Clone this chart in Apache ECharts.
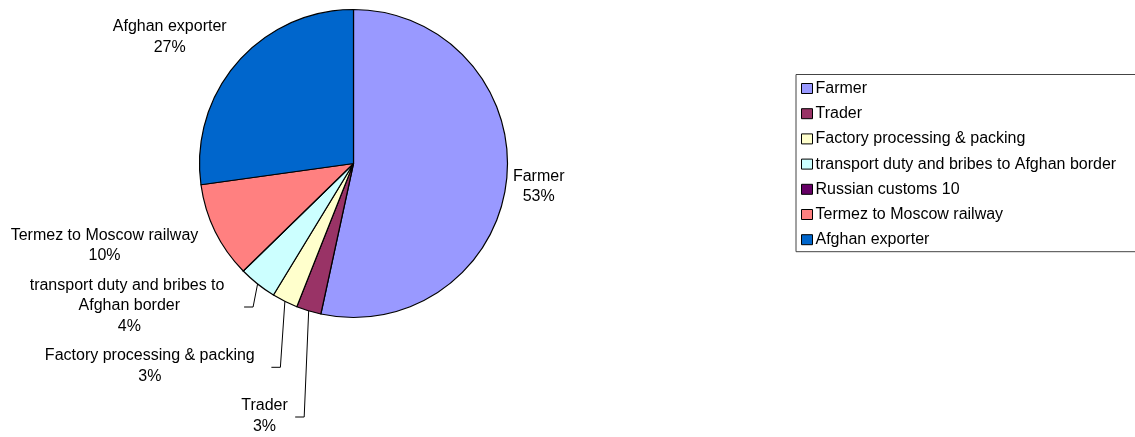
<!DOCTYPE html>
<html>
<head>
<meta charset="utf-8">
<script src="https://cdn.jsdelivr.net/npm/echarts@6/dist/echarts.min.js"></script>
<style>
html,body{margin:0;padding:0;background:#fff;}
#chart{width:1135px;height:437px;}
</style>
</head>
<body>
<div id="chart"></div>
<script>
// ---- data ----
const categories = ['Farmer', 'Trader', 'Factory processing & packing', 'transport duty and bribes to Afghan border', 'Russian customs 10', 'Termez to Moscow railway', 'Afghan exporter'];
const shares = [53.4, 2.6, 2.7, 4.0, 0, 10.1, 27.2];
const colors = ['#9999FF', '#993366', '#FFFFCC', '#CCFFFF', '#660066', '#FF8080', '#0066CC'];

// ---- layout (label placement, not data) ----
const FONT = "'Liberation Sans', Arial, Helvetica, sans-serif";
const FS = 16;
const pieCenter = [353.5, 163.5];
const pieRadius = 154;
const labelCenters = {
  'Farmer': [538.7, 186.7],
  'Afghan exporter': [169.7, 37.2],
  'Termez to Moscow railway': [104.5, 245.5],
  'transport duty and bribes to Afghan border': [129.3, 306],
  'Factory processing & packing': [149.8, 366.3],
  'Trader': [264.5, 416]
};
const leaderNames = ['Trader', 'Factory processing & packing', 'transport duty and bribes to Afghan border'];

const total = shares.reduce((a, b) => a + b, 0);
function edgePoint(i) {
  let cum = 0;
  for (let k = 0; k < i; k++) cum += shares[k];
  const mid = (cum + shares[i] / 2) / total * 2 * Math.PI;
  return [pieCenter[0] + pieRadius * Math.sin(mid), pieCenter[1] - pieRadius * Math.cos(mid)];
}

const data = categories.map((name, i) => {
  const item = { name: name, value: shares[i], itemStyle: { color: colors[i] } };
  if (shares[i] === 0) {
    item.label = { show: false };
    item.labelLine = { show: false };
  } else if (leaderNames.indexOf(name) < 0) {
    item.labelLine = { show: false };
  }
  if (name === 'transport duty and bribes to Afghan border') {
    item.label = { width: 205, overflow: 'break' };
  }
  return item;
});

const chart = echarts.init(document.getElementById('chart'), null, { renderer: 'canvas' });
chart.setOption({
  animation: false,
  backgroundColor: '#ffffff',
  textStyle: { fontFamily: FONT },
  legend: {
    orient: 'vertical',
    left: 796,
    top: 74.5,
    padding: [5, 40, 3, 5],
    borderColor: '#444',
    borderWidth: 1,
    itemWidth: 11,
    itemHeight: 10,
    itemGap: 7.2,
    icon: 'rect',
    itemStyle: { borderColor: '#000', borderWidth: 1 },
    textStyle: { fontFamily: FONT, fontSize: FS, color: '#000', lineHeight: 18, padding: [0, 0, 0, -2] },
    data: categories
  },
  series: [{
    type: 'pie',
    center: pieCenter,
    radius: pieRadius,
    startAngle: 90,
    clockwise: true,
    avoidLabelOverlap: false,
    itemStyle: { borderColor: '#000', borderWidth: 1.2 },
    label: {
      show: true,
      position: 'outside',
      fontFamily: FONT,
      fontSize: FS,
      color: '#000',
      lineHeight: 20.5,
      align: 'center',
      formatter: p => p.name + '\n' + Math.round(p.percent) + '%'
    },
    labelLine: { show: true, smooth: false, lineStyle: { color: '#000', width: 1 } },
    labelLayout: function (p) {
      const name = categories[p.dataIndex];
      const c = labelCenters[name];
      if (!c) return {};
      const res = { x: c[0], y: c[1], align: 'center', verticalAlign: 'middle' };
      if (leaderNames.indexOf(name) >= 0) {
        const s = edgePoint(p.dataIndex);
        const bx = s[0] - 4.5;
        res.labelLinePoints = [s, [bx, c[1] + 1], [bx - 9, c[1] + 1]];
      }
      return res;
    },
    emphasis: { disabled: true },
    data: data
  }]
});
</script>
</body>
</html>
